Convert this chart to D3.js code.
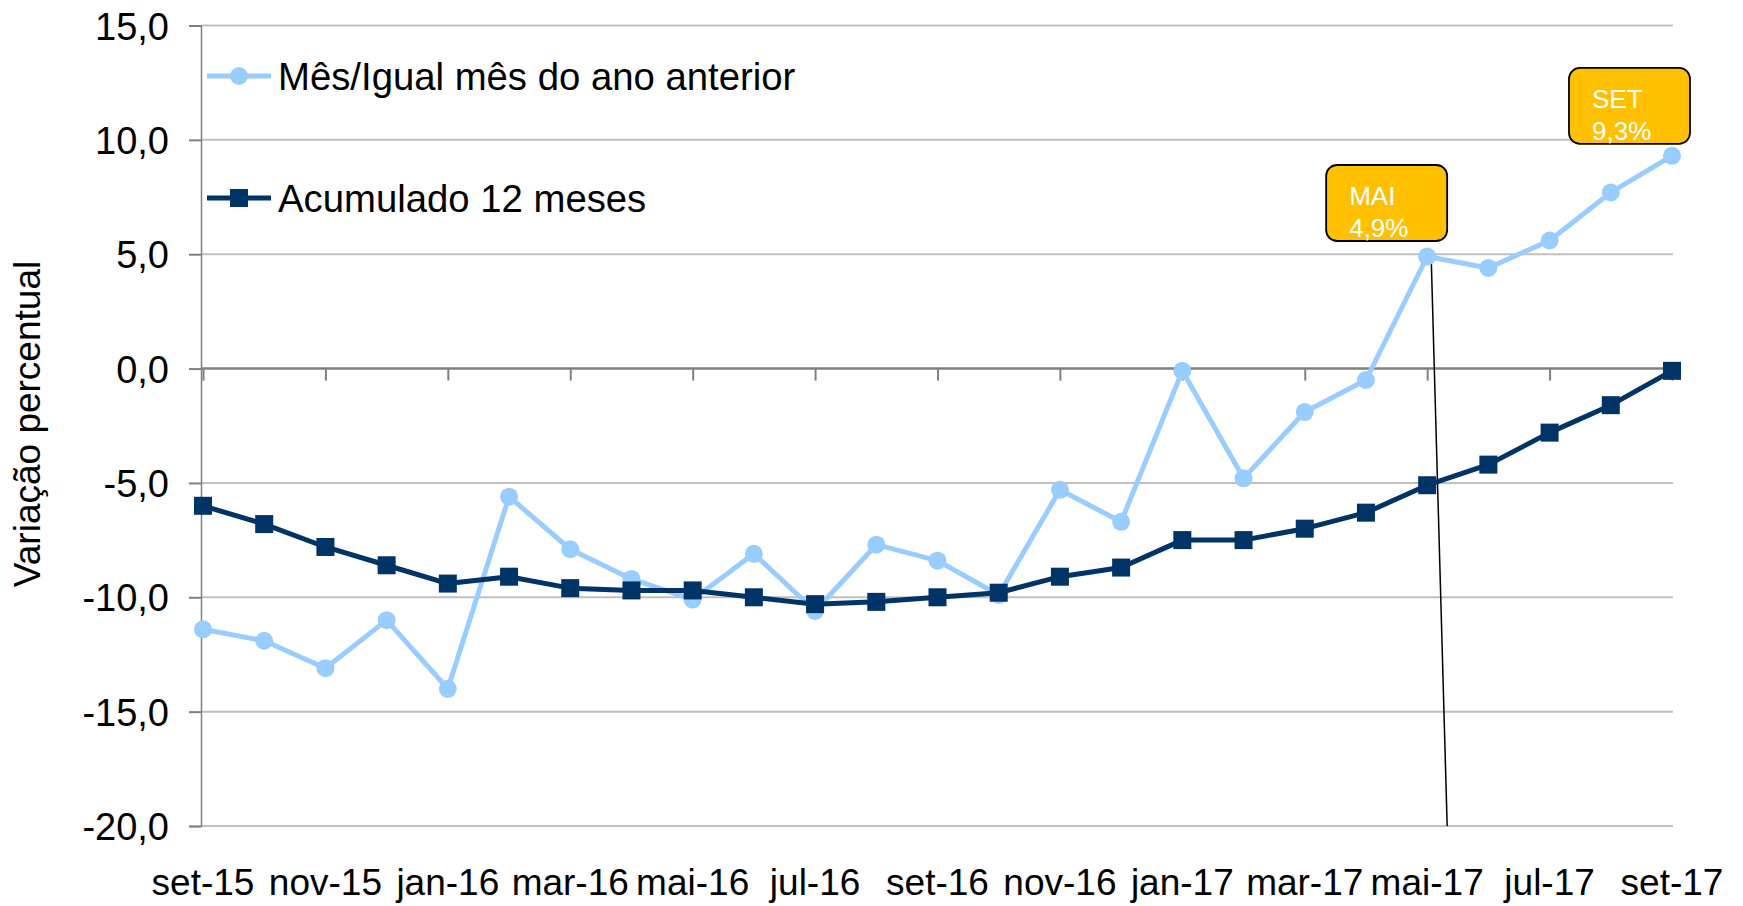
<!DOCTYPE html>
<html>
<head>
<meta charset="utf-8">
<script src="https://cdn.jsdelivr.net/npm/d3@7"></script>
<style>
  body { margin: 0; background: #fff; }
  text { font-family: "Liberation Sans", Arial, sans-serif; }
</style>
</head>
<body>
<script>
var width = 1743;
var height = 906;

// data
var meses = ["set-15","out-15","nov-15","dez-15","jan-16","fev-16","mar-16","abr-16","mai-16",
             "jun-16","jul-16","ago-16","set-16","out-16","nov-16","dez-16","jan-17","fev-17",
             "mar-17","abr-17","mai-17","jun-17","jul-17","ago-17","set-17"];
var mensal = [-11.4,-11.9,-13.1,-11.0,-14.0,-5.6,-7.9,-9.2,-10.1,-8.1,-10.6,-7.7,-8.4,
              -9.9,-5.3,-6.7,-0.1,-4.8,-1.9,-0.5,4.9,4.4,5.6,7.7,9.3];
var acumulado = [-6.0,-6.8,-7.8,-8.6,-9.4,-9.1,-9.6,-9.7,-9.7,-10.0,-10.3,-10.2,-10.0,
                 -9.8,-9.1,-8.7,-7.5,-7.5,-7.0,-6.3,-5.1,-4.2,-2.8,-1.6,-0.1];
var yTicks = [15,10,5,0,-5,-10,-15,-20];
var xLabels = ["set-15","nov-15","jan-16","mar-16","mai-16","jul-16","set-16","nov-16",
               "jan-17","mar-17","mai-17","jul-17","set-17"];
var serieNomes = ["Mês/Igual mês do ano anterior","Acumulado 12 meses"];
var destaques = [{mes:"mai-17", rotulo:"MAI", valor:"4,9%"},
                 {mes:"set-17", rotulo:"SET", valor:"9,3%"}];

var corClaro = "#99CCFF";
var corEscuro = "#003366";
var fmt = function(v){ return d3.format(".1f")(v).replace(".", ",").replace("\u2212", "-"); };

var svg = d3.select("body").append("svg")
            .attr("width", width)
            .attr("height", height);

var plotLeft = 201, plotRight = 1673, plotTop = 25.5, plotBottom = 826;

var x = d3.scalePoint()
          .domain(meses)
          .range([203, 1672]);

var y = d3.scaleLinear()
          .domain([-20, 15])
          .range([plotBottom, plotTop]);

// gridlines
svg.append("g")
   .selectAll("line")
   .data(yTicks.filter(function(d){ return d !== 0; }))
   .enter()
   .append("line")
   .attr("x1", plotLeft).attr("x2", plotRight)
   .attr("y1", function(d){ return y(d); })
   .attr("y2", function(d){ return y(d); })
   .attr("stroke", "#C0C0C0")
   .attr("stroke-width", 2);

// y axis
var yAxis = svg.append("g")
   .attr("transform", "translate(" + plotLeft + ",0)")
   .call(d3.axisLeft(y).tickValues(yTicks).tickSize(12).tickPadding(20).tickFormat(fmt));
yAxis.select(".domain").attr("stroke", "#808080").attr("stroke-width", 1.5);
yAxis.selectAll(".tick line").attr("stroke", "#808080").attr("stroke-width", 2);
yAxis.selectAll(".tick text")
     .attr("font-size", 38)
     .attr("fill", "#000")
     .attr("dy", "0.36em")
     .style("font-family", "Liberation Sans, Arial, sans-serif");

// x axis at zero
var xAxis = svg.append("g")
   .attr("transform", "translate(0," + y(0) + ")")
   .call(d3.axisBottom(x).tickValues(xLabels).tickSize(12).tickSizeOuter(0).tickFormat(""));
xAxis.select(".domain").attr("stroke", "#808080").attr("stroke-width", 2.5)
     .attr("d", "M" + plotLeft + ",0H" + plotRight);
xAxis.selectAll(".tick line").attr("stroke", "#808080").attr("stroke-width", 2);

// x labels at bottom
svg.append("g")
   .selectAll("text")
   .data(xLabels)
   .enter()
   .append("text")
   .attr("x", function(d){ return x(d); })
   .attr("y", 895)
   .attr("text-anchor", "middle")
   .attr("font-size", 37)
   .attr("fill", "#000")
   .text(function(d){ return d; });

// y title
svg.append("text")
   .attr("transform", "translate(40,424) rotate(-90)")
   .attr("text-anchor", "middle")
   .attr("font-size", 37)
   .attr("fill", "#000")
   .text("Variação percentual");

// leader line from MAI
var mai = meses.indexOf("mai-17");
svg.append("line")
   .attr("x1", x("mai-17") + 4).attr("y1", y(mensal[mai]))
   .attr("x2", x("mai-17") + 20).attr("y2", y(-20))
   .attr("stroke", "#000")
   .attr("stroke-width", 1.5);

var line = d3.line()
             .x(function(d, i){ return x(meses[i]); })
             .y(function(d){ return y(d); });

// series 1
svg.append("path")
   .datum(mensal)
   .attr("fill", "none")
   .attr("stroke", corClaro)
   .attr("stroke-width", 5)
   .attr("stroke-linejoin", "round")
   .attr("d", line);
svg.append("g")
   .selectAll("circle")
   .data(mensal)
   .enter()
   .append("circle")
   .attr("cx", function(d, i){ return x(meses[i]); })
   .attr("cy", function(d){ return y(d); })
   .attr("r", 9)
   .attr("fill", corClaro);

// series 2
svg.append("path")
   .datum(acumulado)
   .attr("fill", "none")
   .attr("stroke", corEscuro)
   .attr("stroke-width", 5)
   .attr("stroke-linejoin", "round")
   .attr("d", line);
svg.append("g")
   .selectAll("rect")
   .data(acumulado)
   .enter()
   .append("rect")
   .attr("x", function(d, i){ return x(meses[i]) - 9; })
   .attr("y", function(d){ return y(d) - 9; })
   .attr("width", 18)
   .attr("height", 18)
   .attr("fill", corEscuro);

// legend
var legend = svg.append("g").attr("transform", "translate(207,0)");
var legY = [76, 198];
legend.selectAll("line")
      .data(serieNomes)
      .enter()
      .append("line")
      .attr("x1", 0).attr("x2", 64)
      .attr("y1", function(d, i){ return legY[i]; })
      .attr("y2", function(d, i){ return legY[i]; })
      .attr("stroke", function(d, i){ return i === 0 ? corClaro : corEscuro; })
      .attr("stroke-width", 5);
legend.append("circle").attr("cx", 32).attr("cy", legY[0]).attr("r", 9).attr("fill", corClaro);
legend.append("rect").attr("x", 23).attr("y", legY[1] - 9).attr("width", 18).attr("height", 18).attr("fill", corEscuro);
legend.selectAll("text")
      .data(serieNomes)
      .enter()
      .append("text")
      .attr("x", 71)
      .attr("y", function(d, i){ return legY[i] + 14; })
      .attr("font-size", 38.3)
      .attr("fill", "#000")
      .text(function(d){ return d; });

// callout boxes
var boxOff = {"mai-17": [-101, -91.5], "set-17": [-103, -88]};
var caixas = svg.append("g")
   .selectAll("g")
   .data(destaques)
   .enter()
   .append("g")
   .attr("transform", function(d){
      var v = mensal[meses.indexOf(d.mes)];
      return "translate(" + (x(d.mes) + boxOff[d.mes][0]) + "," + (y(v) + boxOff[d.mes][1]) + ")";
   });
caixas.append("rect")
      .attr("width", 121).attr("height", 76)
      .attr("rx", 11).attr("ry", 11)
      .attr("fill", "#FFC000")
      .attr("stroke", "#000")
      .attr("stroke-width", 1.8);
caixas.append("text")
      .attr("x", 23).attr("y", 40)
      .attr("font-size", 26).attr("fill", "#fff")
      .text(function(d){ return d.rotulo; });
caixas.append("text")
      .attr("x", 23).attr("y", 72)
      .attr("font-size", 26).attr("fill", "#fff")
      .text(function(d){ return d.valor; });
</script>
</body>
</html>
